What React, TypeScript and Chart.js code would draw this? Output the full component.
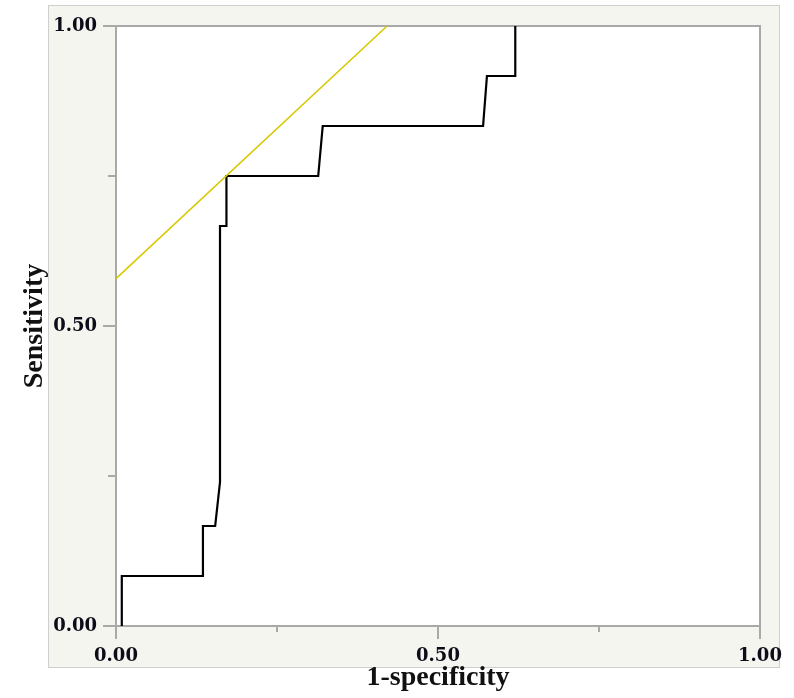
import React, { useEffect, useRef } from "react";
import { Chart, registerables } from "chart.js";

Chart.register(...registerables);

// ROC curve (1-specificity vs sensitivity)
const rocFpr = [0.009, 0.009, 0.135, 0.135, 0.154, 0.1615, 0.1615, 0.1715, 0.1715, 0.314, 0.321, 0.57, 0.576, 0.62, 0.62];
const rocTpr = [0, 0.0833, 0.0833, 0.1667, 0.1667, 0.24, 0.6667, 0.6667, 0.75, 0.75, 0.8333, 0.8333, 0.9167, 0.9167, 1.0];
// Tangent (iso-performance) line
const tangentFpr = [0, 0.421];
const tangentTpr = [0.579, 1.0];
// Axis ticks
const tickValues = [0, 0.25, 0.5, 0.75, 1];
const majorTicks = [0, 0.5, 1];
const xTitle = "1-specificity";
const yTitle = "Sensitivity";

const AXIS_GRAY = "#a9a9a9";

const panelPlugin = {
  id: "panelPlugin",
  beforeDraw(chart: any) {
    const { ctx, chartArea: ca } = chart;
    ctx.save();
    const l = ca.left - 68, t = ca.top - 21, r = ca.right + 20, b = ca.bottom + 42;
    ctx.fillStyle = "#f5f5f0";
    ctx.fillRect(l, t, r - l, b - t);
    ctx.strokeStyle = "#cfcfcf";
    ctx.lineWidth = 1;
    ctx.strokeRect(l + 0.5, t + 0.5, r - l - 1, b - t - 1);
    ctx.fillStyle = "#ffffff";
    ctx.fillRect(ca.left, ca.top, ca.right - ca.left, ca.bottom - ca.top);
    ctx.restore();
  },
  beforeDatasetsDraw(chart: any) {
    const { ctx, chartArea: ca, scales } = chart;
    ctx.save();
    ctx.strokeStyle = AXIS_GRAY;
    ctx.lineWidth = 2;
    ctx.strokeRect(ca.left, ca.top, ca.right - ca.left, ca.bottom - ca.top);
    ctx.beginPath();
    for (const v of tickValues) {
      const major = majorTicks.includes(v);
      const px = scales.x.getPixelForValue(v);
      ctx.moveTo(px, ca.bottom);
      ctx.lineTo(px, ca.bottom + (major ? 13 : 6));
      const py = scales.y.getPixelForValue(v);
      ctx.moveTo(ca.left, py);
      ctx.lineTo(ca.left - (major ? 13 : 8), py);
    }
    ctx.stroke();
    ctx.restore();
  },
};

export default function App() {
  const ref = useRef<HTMLCanvasElement>(null);
  useEffect(() => {
    document.body.style.margin = "0";
    const canvas = ref.current!;
    const tickFont = { family: "'DejaVu Serif'", weight: "bold" as const, size: 18 };
    const titleFont = { family: "'Liberation Serif', 'Times New Roman', serif", weight: "bold" as const, size: 28 };
    const labelCb = (v: any) => (majorTicks.includes(Number(v)) ? Number(v).toFixed(2) : "");
    const chart = new Chart(canvas, {
      type: "scatter",
      data: {
        datasets: [
          {
            data: tangentFpr.map((x, i) => ({ x, y: tangentTpr[i] })),
            showLine: true,
            borderColor: "#d8c800",
            borderWidth: 1.5,
            pointRadius: 0,
            tension: 0,
          },
          {
            data: rocFpr.map((x, i) => ({ x, y: rocTpr[i] })),
            showLine: true,
            borderColor: "#000000",
            borderWidth: 2.2,
            pointRadius: 0,
            tension: 0,
          },
        ],
      },
      options: {
        responsive: false,
        animation: false,
        layout: { padding: { left: 0, right: 34, top: 26, bottom: 0 } },
        plugins: { legend: { display: false }, tooltip: { enabled: false } },
        scales: {
          x: {
            type: "linear",
            min: 0,
            max: 1,
            border: { display: false },
            grid: { display: true, drawOnChartArea: false, drawTicks: true, tickLength: 12, color: "rgba(0,0,0,0)" },
            ticks: { stepSize: 0.25, autoSkip: false, maxRotation: 0, padding: 8, color: "#0d0d1a", font: tickFont, callback: labelCb },
            title: { display: true, text: xTitle, color: "#111111", font: titleFont, padding: { top: 0, bottom: 3 } },
            afterFit: (s: any) => { s.height = 72; },
          },
          y: {
            type: "linear",
            min: 0,
            max: 1,
            border: { display: false },
            grid: { display: true, drawOnChartArea: false, drawTicks: true, tickLength: 12, color: "rgba(0,0,0,0)" },
            ticks: { stepSize: 0.25, autoSkip: false, padding: 7, color: "#0d0d1a", font: tickFont, callback: labelCb },
            title: { display: true, text: yTitle, color: "#111111", font: titleFont, padding: { top: 18, bottom: 0 } },
            afterFit: (s: any) => { s.width = 116; },
          },
        },
      },
      plugins: [panelPlugin],
    });
    return () => chart.destroy();
  }, []);
  return <canvas ref={ref} width={794} height={698} style={{ display: "block" }} />;
}
